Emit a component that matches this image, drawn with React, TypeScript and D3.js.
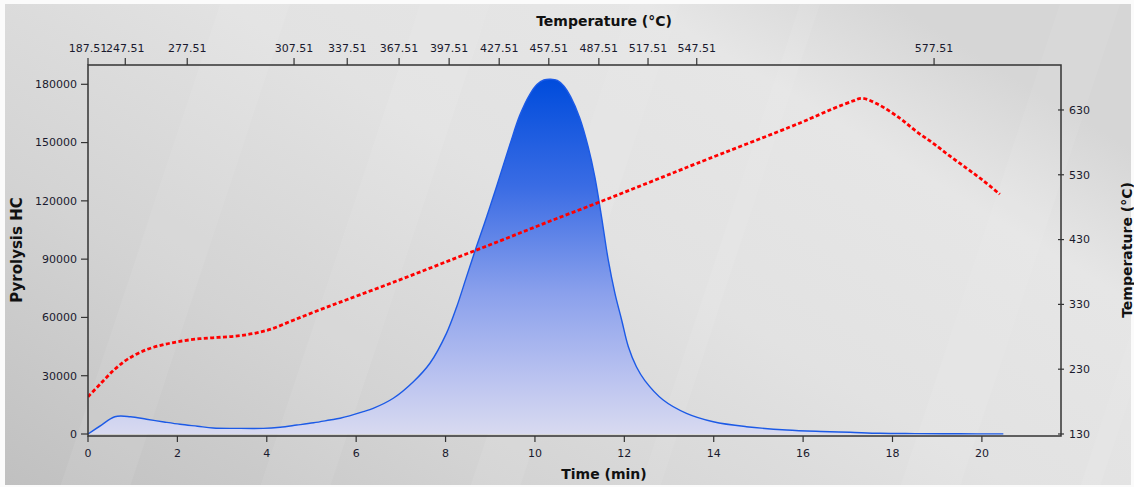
import React from 'react';
import * as d3 from 'd3';

// Pyrolysis HC signal (time in min, value)
const timeHC = [0, 0.3, 0.6, 0.95, 1.31, 1.7, 2.06, 2.45, 2.8, 3.3, 3.92, 4.3, 4.67, 5.05, 5.41, 5.64, 6.16, 6.38, 6.83, 7.28, 7.65, 8.02, 8.25, 8.47, 8.69, 8.92, 9.14, 9.44, 9.66, 9.89, 10.05, 10.2, 10.35, 10.5, 10.65, 10.8, 11.0, 11.19, 11.34, 11.49, 11.64, 11.79, 11.94, 12.09, 12.27, 12.46, 12.87, 13.39, 13.99, 14.73, 15.63, 16.4, 17.05, 17.72, 18.5, 19.5, 20.48];
const valuesHC = [0, 4600, 8900, 8900, 7600, 6200, 5000, 4000, 3100, 2900, 2900, 3500, 4600, 5800, 7200, 8100, 11500, 13200, 18400, 26900, 36400, 51800, 65500, 81000, 96400, 111800, 127300, 149000, 164000, 175000, 180000, 182200, 182600, 182000, 179000, 173500, 162800, 147900, 132400, 111800, 89600, 72400, 58700, 44900, 34600, 27500, 17500, 10650, 6330, 3760, 2060, 1300, 870, 360, 200, 100, 50];

// Temperature programme (time in min, °C)
const timeTemp = [0, 0.3, 0.6, 0.9, 1.3, 1.7, 2.1, 2.5, 2.9, 3.3, 3.7, 4.1, 4.61, 5.2, 5.8, 6.96, 8.08, 9.2, 10.3, 11.43, 12.53, 13.62, 15.93, 16.67, 17.12, 17.31, 17.64, 18.17, 18.54, 18.91, 19.28, 19.66, 20.03, 20.4];
const valuesTemp = [187.5, 209, 230, 246, 260, 268, 273.5, 277, 279, 281, 285, 292, 306, 322, 337.5, 367.5, 397.5, 427.5, 457.5, 487.5, 517.5, 547.5, 610, 632, 644, 648, 640, 617, 596.5, 578.6, 559, 540, 521, 500];

const leftTicks = [0, 30000, 60000, 90000, 120000, 150000, 180000];
const rightTicks = [130, 230, 330, 430, 530, 630];
const bottomTicks = [0, 2, 4, 6, 8, 10, 12, 14, 16, 18, 20];
const topTickTimes = [0, 0.834, 2.22, 4.61, 5.8, 6.96, 8.08, 9.2, 10.31, 11.43, 12.53, 13.62, 18.93];
const topTickLabels = ['187.51', '247.51', '277.51', '307.51', '337.51', '367.51', '397.51', '427.51', '457.51', '487.51', '517.51', '547.51', '577.51'];

export default function App() {
  const W = 1134, H = 487;
  const L = 88, T = 65, R = 1061, B = 436;
  const x = d3.scaleLinear().domain([0, 21.77]).range([L, R]);
  const y = d3.scaleLinear().domain([-1030, 189930]).range([B, T]);
  const yT = d3.scaleLinear().domain([126.9, 699.4]).range([B, T]);

  const curve = d3.curveCatmullRom.alpha(0.5);
  const area = d3.area<number>()
    .x((_, i) => x(timeHC[i]))
    .y0(y(0))
    .y1((d) => y(d))
    .curve(curve);
  const line = d3.line<number>()
    .x((_, i) => x(timeHC[i]))
    .y((d) => y(d))
    .curve(curve);
  const tline = d3.line<number>()
    .x((_, i) => x(timeTemp[i]))
    .y((d) => yT(d))
    .curve(curve);

  const font = '"DejaVu Sans", Verdana, sans-serif';
  const tickColor = '#1a1a2e';
  const axisColor = '#333';

  const streaks = [
    [60, 130], [260, 330], [470, 520], [640, 660], [900, 960], [1080, 1100],
  ];

  return (
    <svg width={W} height={H} style={{ position: 'absolute', left: 0, top: 0 }} fontFamily={font}>
      <defs>
        <linearGradient id="bg" x1="0" y1="1" x2="1" y2="0.3">
          <stop offset="0" stopColor="#c0c0c0" />
          <stop offset="0.3" stopColor="#d3d3d3" />
          <stop offset="0.6" stopColor="#e2e2e2" />
          <stop offset="0.85" stopColor="#e6e6e6" />
          <stop offset="1" stopColor="#d6d6d6" />
        </linearGradient>
        <linearGradient id="fillHC" gradientUnits="userSpaceOnUse" x1="0" y1={y(182000)} x2="0" y2={y(0)}>
          <stop offset="0" stopColor="#004cdc" />
          <stop offset="0.3" stopColor="#3a6ce4" />
          <stop offset="0.6" stopColor="#8aa0ec" />
          <stop offset="0.85" stopColor="#bcc4f0" />
          <stop offset="1" stopColor="#d8daf0" />
        </linearGradient>
        <clipPath id="plot">
          <rect x={L} y={T} width={R - L} height={B - T} />
        </clipPath>
      </defs>
      <rect x={0} y={0} width={W} height={H} fill="#fbfbfb" />
      <rect x={5} y={4} width={W - 8} height={H - 6} fill="url(#bg)" />
      {streaks.map(([a, b], i) => (
        <polygon key={i} points={`${a},${H} ${b},${H} ${b + 160},4 ${a + 160},4`} fill="#ffffff" opacity={0.07} />
      ))}

      <g clipPath="url(#plot)">
        <path d={area(valuesHC) || ''} fill="url(#fillHC)" />
        <path d={line(valuesHC) || ''} fill="none" stroke="#1c5ae6" strokeWidth={1.4} />
        <path d={tline(valuesTemp) || ''} fill="none" stroke="#ff0000" strokeWidth={2.8} strokeDasharray="4,2.4" />
      </g>

      {/* frame */}
      <rect x={L} y={T} width={R - L} height={B - T} fill="none" stroke={axisColor} strokeWidth={1.5} />

      {/* left axis */}
      {leftTicks.map((v) => (
        <g key={v}>
          <line x1={L - 7} x2={L} y1={y(v)} y2={y(v)} stroke={axisColor} strokeWidth={1.2} />
          <text x={L - 11} y={y(v)} dy="0.35em" textAnchor="end" fontSize={11} fill={tickColor}>{v}</text>
        </g>
      ))}
      {/* right axis */}
      {rightTicks.map((v) => (
        <g key={v}>
          <line x1={R - 3} x2={R + 3} y1={yT(v)} y2={yT(v)} stroke={axisColor} strokeWidth={1.2} />
          <text x={R + 8} y={yT(v)} dy="0.35em" textAnchor="start" fontSize={11} fill={tickColor}>{v}</text>
        </g>
      ))}
      {/* bottom axis */}
      {bottomTicks.map((v) => (
        <g key={v}>
          <line x1={x(v)} x2={x(v)} y1={B} y2={B + 6} stroke={axisColor} strokeWidth={1.2} />
          <text x={x(v)} y={B + 17} dy="0.35em" textAnchor="middle" fontSize={11} fill={tickColor}>{v}</text>
        </g>
      ))}
      {/* top axis */}
      {topTickTimes.map((t, i) => (
        <g key={i}>
          <line x1={x(t)} x2={x(t)} y1={T} y2={T - 7} stroke={axisColor} strokeWidth={1.2} />
          <text x={x(t)} y={T - 17} dy="0.35em" textAnchor="middle" fontSize={11} fill={tickColor}>{topTickLabels[i]}</text>
        </g>
      ))}

      {/* titles */}
      <text x={604} y={21} dy="0.35em" textAnchor="middle" fontSize={14} fontWeight="bold" fill="#111">Temperature (°C)</text>
      <text x={604} y={474} dy="0.35em" textAnchor="middle" fontSize={14} fontWeight="bold" fill="#111">Time (min)</text>
      <text transform={`translate(17,250) rotate(-90)`} dy="0.35em" textAnchor="middle" fontSize={15} fontWeight="bold" fill="#111">Pyrolysis HC</text>
      <text transform={`translate(1127,250) rotate(-90)`} dy="0.35em" textAnchor="middle" fontSize={14} fontWeight="bold" fill="#111">Temperature (°C)</text>
    </svg>
  );
}
